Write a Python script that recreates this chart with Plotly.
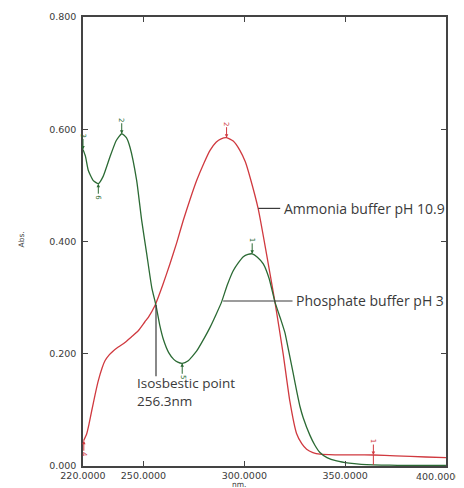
import plotly.graph_objects as go

# Phosphate buffer pH 3 (green)
wl_green = [220, 221.2, 222.6, 225, 227.6, 230, 233.4, 236.5, 239.2, 241.5, 243.3, 246.6, 249.1,
            251.6, 254.1, 256.2, 258, 260, 262.5, 265, 267, 269.2, 272, 276.4, 280, 283, 286, 288.7,
            291.5, 294.5, 297, 299.5, 301.8, 303.9, 306.5, 309.4, 312.3, 315.2, 318, 320.1, 322,
            324.3, 326, 327.6, 329.2, 332.5, 335, 337.5, 341, 345.8, 352, 358, 364, 372, 380, 390, 400]
abs_green = [0.564, 0.552, 0.527, 0.509, 0.503, 0.516, 0.551, 0.580, 0.592, 0.585, 0.568, 0.509,
             0.4375, 0.378, 0.318, 0.286, 0.252, 0.224, 0.202, 0.190, 0.185, 0.183, 0.187, 0.205,
             0.227, 0.247, 0.270, 0.292, 0.322, 0.348, 0.362, 0.373, 0.377, 0.378, 0.372, 0.360,
             0.334, 0.292, 0.262, 0.238, 0.205, 0.164, 0.133, 0.106, 0.086, 0.055, 0.037, 0.024,
             0.015, 0.009, 0.005, 0.003, 0.002, 0.0015, 0.001, 0.001, 0.001]

# Ammonia buffer pH 10.9 (red)
wl_red = [220.3, 221.8, 223, 224.3, 226, 227.6, 229.5, 230.9, 233, 235, 237.5, 240.8, 244, 247.4,
          250.7, 252.4, 255.7, 259.5, 263.1, 266.5, 269.7, 273, 276.4, 280, 283, 286, 288.5, 291.2,
          294.5, 297.8, 300.5, 302.8, 306.9, 311, 315.2, 319.3, 322.6, 325.9, 328.5, 330.9, 334,
          337.5, 345, 355, 364, 375, 390, 400]
abs_red = [0.045, 0.057, 0.075, 0.098, 0.127, 0.152, 0.175, 0.1875, 0.198, 0.205, 0.212, 0.220,
           0.230, 0.241, 0.257, 0.265, 0.286, 0.322, 0.360, 0.398, 0.4375, 0.474, 0.509, 0.540,
           0.5625, 0.577, 0.583, 0.585, 0.579, 0.5625, 0.542, 0.515, 0.458, 0.378, 0.292, 0.199,
           0.115, 0.058, 0.040, 0.030, 0.024, 0.021, 0.020, 0.0198, 0.0196, 0.018, 0.016, 0.015]

# peak / valley picks; direction -1 = arrow from above, 1 = arrow from below
green_pick_x = [220, 239.2, 227.6, 269.2, 303.9]
green_pick_y = [0.564, 0.592, 0.503, 0.183, 0.378]
green_pick_lbl = ["3", "2", "6", "5", "1"]
green_pick_dir = [-1, -1, 1, 1, -1]

red_pick_x = [291.2, 220.4, 364]
red_pick_y = [0.585, 0.045, 0.0196]
red_pick_lbl = ["2", "4", "1"]
red_pick_dir = [-1, 1, -1]

x_ticks = [220, 250, 300, 350, 400]
x_tick_text = ["220.0000", "250.0000", "300.0000", "350.0000", "400.0000"]
y_ticks = [0, 0.2, 0.4, 0.6, 0.8]
y_tick_text = ["0.000", "0.200", "0.400", "0.600", "0.800"]

RED = "#d0393f"
GREEN = "#2b6a34"
TXT = "#3a3a3a"
LBL_FONT = dict(family="Open Sans", size=14, color=TXT)
TICK_FONT = dict(family="DejaVu Sans", size=9.5, color=TXT)

# the page body adds an 8px offset; figure is sized so the plot area lands where the reference has it
OFF = 8
W, H = 456, 480
ML, MR, MT, MB = 75, 18, 9, 22
pw = W - ML - MR
ph = H - MT - MB


def paper_x(page_px):
    return (page_px - OFF - ML) / pw


def paper_y(page_py):
    return (H - MB - (page_py - OFF)) / ph


fig = go.Figure()
fig.add_trace(go.Scatter(x=wl_red, y=abs_red, mode="lines",
                         line=dict(color=RED, width=1.3, shape="spline", smoothing=0.5),
                         name="Ammonia buffer pH 10.9", hoverinfo="skip"))
fig.add_trace(go.Scatter(x=wl_green, y=abs_green, mode="lines",
                         line=dict(color=GREEN, width=1.3, shape="spline", smoothing=0.5),
                         name="Phosphate buffer pH 3", hoverinfo="skip"))

annotations = []
for xs, ys, ls, ds, col in [(green_pick_x, green_pick_y, green_pick_lbl, green_pick_dir, GREEN),
                            (red_pick_x, red_pick_y, red_pick_lbl, red_pick_dir, RED)]:
    for x, y, l, d in zip(xs, ys, ls, ds):
        annotations.append(dict(x=x, y=y, xref="x", yref="y", text=l, textangle=90,
                                showarrow=True, arrowhead=2, arrowsize=0.7, arrowwidth=1,
                                arrowcolor=col, ax=0, ay=14 * d, standoff=0,
                                font=dict(family="DejaVu Sans", size=7, color=col)))

annotations += [
    dict(x=318.5, y=0.459, xref="x", yref="y", text="Ammonia buffer pH 10.9", showarrow=False,
         xanchor="left", yanchor="middle", font=LBL_FONT),
    dict(x=324.6, y=0.294, xref="x", yref="y", text="Phosphate buffer pH 3", showarrow=False,
         xanchor="left", yanchor="middle", font=LBL_FONT),
    dict(x=245.8, y=0.131, xref="x", yref="y", text="Isosbestic point<br>256.3nm",
         showarrow=False, xanchor="left", yanchor="middle", align="left",
         font=dict(family="Open Sans", size=13.5, color=TXT)),
    # last x tick label, kept inside the page edge (the reference shows it at the very edge)
    dict(x=x_ticks[-1], y=paper_y(476), xref="x", yref="paper", text=x_tick_text[-1],
         showarrow=False, xanchor="right", yanchor="middle", xshift=17, font=TICK_FONT),
    dict(x=paper_x(239), y=paper_y(484), xref="paper", yref="paper", text="nm.",
         showarrow=False, yanchor="middle",
         font=dict(family="DejaVu Sans", size=7.5, color=TXT)),
    dict(x=paper_x(15), y=paper_y(240), xref="paper", yref="paper",
         text="Abs.", textangle=-90, showarrow=False,
         font=dict(family="DejaVu Sans", size=7.5, color=TXT)),
]

shapes = [
    dict(type="line", xref="x", yref="y", x0=306.9, y0=0.459, x1=317.8, y1=0.459,
         line=dict(color=TXT, width=1.2)),
    dict(type="line", xref="x", yref="y", x0=289.5, y0=0.294, x1=323.9, y1=0.294,
         line=dict(color=TXT, width=1.2)),
    dict(type="line", xref="x", yref="y", x0=256.2, y0=0.287, x1=256.2, y1=0.160,
         line=dict(color=TXT, width=1.2)),
    dict(type="line", xref="x", yref="y", x0=364, y0=0.0196, x1=364, y1=0.002,
         line=dict(color=RED, width=1)),
]

fig.update_layout(
    width=W, height=H, margin=dict(l=ML, r=MR, t=MT, b=MB, pad=0, autoexpand=False),
    paper_bgcolor="white", plot_bgcolor="white", showlegend=False,
    annotations=annotations, shapes=shapes,
    xaxis=dict(range=[220, 400.02], tickvals=x_ticks, ticktext=x_tick_text[:-1] + [""],
               automargin=False,
               ticks="inside", ticklen=5, tickcolor="#444", showline=True, linecolor="#444",
               linewidth=1.5, mirror="ticks", showgrid=False, zeroline=False,
               tickfont=TICK_FONT),
    yaxis=dict(range=[0, 0.8], tickvals=y_ticks, ticktext=y_tick_text, automargin=False,
               ticks="inside", ticklen=5, tickcolor="#444", showline=True, linecolor="#444",
               linewidth=1.5, mirror="ticks", showgrid=False, zeroline=False,
               ticklabelstandoff=3, tickfont=TICK_FONT),
)

fig.write_html("out.html")
